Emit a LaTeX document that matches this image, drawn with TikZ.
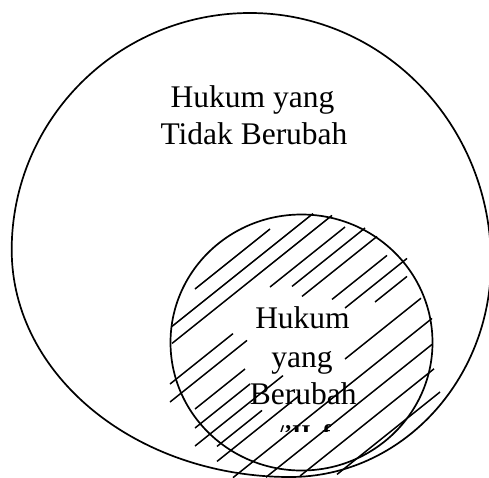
\documentclass[tikz,border=0pt]{standalone}
\usepackage{fontspec}
\setmainfont{Liberation Serif}
\begin{document}
\begin{tikzpicture}[x=1pt,y=-1pt,
  rim/.style={line width=1.7pt,black},
  hatch/.style={line width=1.5pt,black,line cap=butt},
  lbl/.style={font=\fontsize{31.5}{37}\selectfont,inner sep=0pt,anchor=base}]
\useasboundingbox (0,0) rectangle (489,477);
\clip (0,0) rectangle (489,477);
% outer shape (four quarter-ellipse pieces)
\draw[rim] (11.7,250)
  .. controls (11.7,119.1) and (118.4,13) .. (250,13)
  .. controls (383.1,13) and (491,124.5) .. (491,262)
  .. controls (491,380.7) and (401,477) .. (290,477)
  .. controls (136.3,477) and (11.7,375.4) .. (11.7,250) -- cycle;
% inner circle
\draw[rim] (301.5,342.5) ellipse [x radius=131, y radius=128];
% hatching: c/x1/x2 with y = c - 0.8 x
\foreach \c/\xa/\xb in {445/195/270, 464/172/313, 481/172/332, 503/270/345,
  520/170/233, 520/292/365, 538/170/247, 538/302/377,
  565/195/245, 565/332/387, 584/195/250, 584/345/407,
  602/195/283, 602/375/407, 620/217/262, 635/217/300, 635/345/421,
  664/233/432, 690/266/432, 716/300/434, 744/337/440}
  \draw[hatch] (\xa,{\c-0.8*\xa}) -- (\xb,{\c-0.8*\xb});
% texts
\node[lbl] (t1) at (252.5,107) {Hukum yang};
\node[lbl] (t2) at (254,144) {Tidak Berubah};
\node[lbl] (i1) at (302.5,328) {Hukum};
\node[lbl] (i2) at (302,367) {yang};
\node[lbl] (i3) at (303.3,404) {Berubah};
\begin{scope}
  \clip (260,418) rectangle (345,431);
  \node[inner sep=0pt,anchor=base,font=\fontsize{24}{28}\selectfont\bfseries] (i4) at (304,441) {/’II..f};
\end{scope}
\end{tikzpicture}
\end{document}
